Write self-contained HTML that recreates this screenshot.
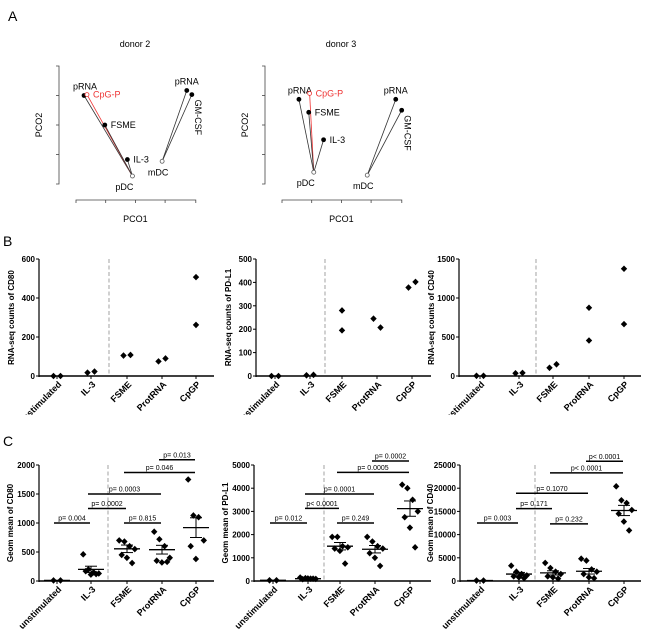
<!DOCTYPE html>
<html><head><meta charset="utf-8"><style>
body{margin:0;background:#fff}
svg{display:block;font-family:"Liberation Sans",Arial,sans-serif}
</style></head><body>
<svg id="fig" width="650" height="640" viewBox="0 0 650 640">
<defs><clipPath id="clipB"><rect x="0" y="225" width="650" height="190"/></clipPath></defs>
<g id="A"></g>
<g id="B" clip-path="url(#clipB)"></g>
<g id="C"></g>
</svg>
<script>
const NS="http://www.w3.org/2000/svg";
function mk(p,t,a,txt){const e=document.createElementNS(NS,t);for(const k in a)e.setAttribute(k,a[k]);if(txt!==undefined)e.textContent=txt;p.appendChild(e);return e;}

// ---- Panel A data (PCO coordinates in axis tick units) ----
const pcoDonors=["donor 2","donor 3"];
const pcoLabels=[["pRNA","CpG-P","FSME","IL-3","pRNA","GM-CSF"],["pRNA","CpG-P","FSME","IL-3","pRNA","GM-CSF"]];
const pcoX=[[0.27,0.37,0.97,1.73,3.73,3.9],[0.57,0.93,0.9,1.4,3.83,4.03]];
const pcoY=[[3.0,3.03,2.0,0.83,3.17,3.03],[2.87,3.07,2.43,1.5,2.87,2.5]];
const pcoOrigin=[[[1.9,0.27],[2.9,0.77]],[[1.07,0.4],[2.87,0.3]]]; // pDC, mDC
const pcoParent=[[0,0,0,0,1,1],[0,0,0,0,1,1]];

// ---- Panel B data ----
const bCats=["unstimulated","IL-3","FSME","ProtRNA","CpGP"];
const bTitles=["RNA-seq counts of CD80","RNA-seq counts of PD-L1","RNA-seq counts of CD40"];
const bTicks=[[0,200,400,600],[0,100,200,300,400,500],[0,500,1000,1500]];
const bVals=[
 [[0,0],[17,23],[105,108],[75,90],[507,262]],
 [[0,0],[3,5],[280,195],[245,207],[378,402]],
 [[3,3],[35,40],[105,150],[875,455],[1375,665]]
];
// ---- Panel C data ----
const cTitles=["Geom mean of CD80","Geom mean of PD-L1","Geom mean of CD40"];
const cTicks=[[0,500,1000,1500,2000],[0,1000,2000,3000,4000,5000],[0,5000,10000,15000,20000,25000]];
const cVals=[
 [[10,10],[460,200,150,130,170,110,120],[700,680,600,550,450,400,310],[850,720,600,400,350,320,330],[1750,1130,1100,700,600,380]],
 [[30,30],[150,120,100,90,80,110,100],[1900,1900,1500,1450,1400,1300,750],[1900,1700,1500,1400,1200,1000,650],[4150,4000,3500,3000,2750,2300,1450]],
 [[100,100],[3300,2000,1500,1200,1000,800,600],[3900,2800,2000,1500,1000,800,500],[4800,4400,2500,2000,1500,800,600],[20400,17400,16800,15300,14500,12800,10900]]
];
const cMeans=[[10,200,555,540,920],[30,100,1500,1370,3120],[100,1500,1750,2100,15200]];
const cSem=[[0,55,65,75,170],[0,15,160,160,330],[0,350,450,600,1100]];
const cSigLabels=[
 ["p= 0.004","p= 0.0002","p= 0.0003","p= 0.815","p= 0.046","p= 0.013"],
 ["p= 0.012","p< 0.0001","p= 0.0001","p= 0.249","p= 0.0005","p= 0.0002"],
 ["p= 0.003","p= 0.171","p= 0.1070","p= 0.232","p< 0.0001","p< 0.0001"]];
const cSigFrom=[0,1,1,2,2,3];
const cSigTo=[1,2,3,3,4,4];
const cSigLevel=[[1000,1250,1500,1000,1870,2090],[2500,3130,3750,2500,4680,5170],[12500,15600,18900,12300,23300,25800]];

// ---- Panel A ----
const A=document.getElementById('A');
let t=mk(A,'text',{x:8,y:21,'font-size':14},'A');

const aAxX=[59,265];
pcoDonors.forEach((d,i)=>{
  const g=mk(A,'g',{});
  
  const ax=aAxX[i], x0=ax+17, dx=29.7, y0=184, dy=29.5;
  const sx=v=>x0+v*dx, sy=v=>y0-v*dy;
  let tt=mk(g,'text',{x:ax+76,y:47,'font-size':9,'text-anchor':'middle'},d);
  
  mk(g,'path',{d:`M${ax-3} 66H${ax}V${y0}H${ax-3}`,stroke:'#444',fill:'none','stroke-width':0.8});
  for(let k=1;k<4;k++)mk(g,'line',{x1:ax-3,x2:ax,y1:y0-k*dy,y2:y0-k*dy,stroke:'#444','stroke-width':0.8});
  mk(g,'path',{d:`M${x0} 203V200H${x0+4*dx+1}V203`,stroke:'#444',fill:'none','stroke-width':0.8});
  for(let k=1;k<4;k++)mk(g,'line',{x1:x0+k*dx,x2:x0+k*dx,y1:200,y2:203,stroke:'#444','stroke-width':0.8});
  let yl=mk(g,'text',{x:ax-17,y:125,'font-size':9,'text-anchor':'middle',transform:`rotate(-90 ${ax-17} 125)`},'PCO2');
  
  let xl=mk(g,'text',{x:x0+2*dx,y:222,'font-size':9,'text-anchor':'middle'},'PCO1');
  
  pcoLabels[i].forEach((lab,j)=>{
    const o=pcoOrigin[i][pcoParent[i][j]];
    const red=lab==='CpG-P';
    mk(g,'line',{x1:sx(o[0]),y1:sy(o[1]),x2:sx(pcoX[i][j]),y2:sy(pcoY[i][j]),stroke:red?'#e33':'#333','stroke-width':0.8});
  });
  pcoLabels[i].forEach((lab,j)=>{
    const red=lab==='CpG-P', px=sx(pcoX[i][j]), py=sy(pcoY[i][j]);
    const c=mk(g,'circle',{cx:px,cy:py,r:2,fill:red?'#fff':'#000',stroke:red?'#e33':'#000','stroke-width':0.8});
    
    let tx;
    if(lab==='GM-CSF'){tx=mk(g,'text',{x:px+3,y:py+5,'font-size':9,transform:`rotate(90 ${px+3} ${py+5})`},lab);}
    else if(j===0){tx=mk(g,'text',{x:px+1,y:py-6,'font-size':9,'text-anchor':'middle'},lab);}
    else if(j===4){tx=mk(g,'text',{x:px,y:py-6,'font-size':9,'text-anchor':'middle'},lab);}
    else tx=mk(g,'text',{x:px+6,y:py+3,'font-size':9,fill:red?'#e33':'#000'},lab);
    
  });
  ['pDC','mDC'].forEach((lab,k)=>{
    const o=pcoOrigin[i][k];
    const c=mk(g,'circle',{cx:sx(o[0]),cy:sy(o[1]),r:2,fill:'#fff',stroke:'#555','stroke-width':0.8});
    
    const tx=mk(g,'text',{x:sx(o[0])-(k?4:8),y:sy(o[1])+14,'font-size':9,'text-anchor':'middle'},lab);
    
  });
});

function diamond(g,x,y,name){
  const d=mk(g,'path',{d:`M${x} ${y-3.3}L${x+3.2} ${y}L${x} ${y+3.3}L${x-3.2} ${y}Z`,fill:'#000'});
  
}
function panel(root,o){
  const g=mk(root,'g',{});
  
  const sy=v=>o.y0-(v/o.max)*(o.y0-o.yTop);
  mk(g,'line',{x1:o.ax,x2:o.ax,y1:o.yTop,y2:o.y0+1,stroke:'#000','stroke-width':1.2});
  mk(g,'line',{x1:o.ax,x2:o.axEnd,y1:o.y0,y2:o.y0,stroke:'#000','stroke-width':1.4});
  o.ticks.forEach(v=>{
    mk(g,'line',{x1:o.ax-3,x2:o.ax,y1:sy(v),y2:sy(v),stroke:'#000','stroke-width':1});
    const tl=mk(g,'text',{x:o.ax-4,y:sy(v)+3,'font-size':8,'font-weight':'bold','text-anchor':'end'},v);
    
  });
  const tx=o.ax-o.titleOff, ty=(o.yTop+o.y0)/2;
  const yt=mk(g,'text',{x:tx,y:ty,'font-size':8,'font-weight':'bold','text-anchor':'middle',transform:`rotate(-90 ${tx} ${ty})`},o.title);
  
  mk(g,'line',{x1:o.dash,x2:o.dash,y1:o.yTop,y2:o.y0,stroke:'#999','stroke-width':0.9,'stroke-dasharray':'4,2.5'});
  bCats.forEach((c,i)=>{
    const x=o.cx[i];
    mk(g,'line',{x1:x,x2:x,y1:o.y0,y2:o.y0+3,stroke:'#000','stroke-width':1});
    const lx=x+5, ly=o.y0+9;
    const tl=mk(g,'text',{x:lx,y:ly,'font-size':9,'font-weight':'bold','text-anchor':'end',transform:`rotate(-45 ${lx} ${ly})`},c);
    
    const vals=o.vals[i], n=vals.length;
    const stack=n===2&&Math.abs(vals[0]-vals[1])>0.08*o.max;
    vals.forEach((v,k)=>{
      const off=stack?0:(n<=2?(k-0.5)*7:((k%4)-1.5)*5.2+(k>=4?2.5:0));
      diamond(g,x+off,sy(v),'point-'+c.toLowerCase());
    });
    if(o.means){
      const m=o.means[i],s=o.sem[i];
      const ml=mk(g,'line',{x1:x-13,x2:x+13,y1:sy(m),y2:sy(m),stroke:'#000','stroke-width':1.3});
      
      if(s>0){
        mk(g,'line',{x1:x,x2:x,y1:sy(m+s),y2:sy(m-s),stroke:'#000','stroke-width':1});
        mk(g,'line',{x1:x-6,x2:x+6,y1:sy(m+s),y2:sy(m+s),stroke:'#000','stroke-width':1});
        mk(g,'line',{x1:x-6,x2:x+6,y1:sy(m-s),y2:sy(m-s),stroke:'#000','stroke-width':1});
      }
    }
  });
  if(o.sig){
    o.sig.forEach((lab,k)=>{
      const x1=o.cx[cSigFrom[k]]-3,x2=o.cx[cSigTo[k]]-1,y=sy(o.sigLv[k]);
      const b=mk(g,'line',{x1:x1,x2:x2,y1:y,y2:y,stroke:'#000','stroke-width':1.5});
      
      const tl=mk(g,'text',{x:(x1+x2)/2,y:y-2.5,'font-size':7,'text-anchor':'middle'},lab);
      
    });
  }
}
const B=document.getElementById('B'), C=document.getElementById('C');
let lb=mk(B,'text',{x:3,y:246,'font-size':14},'B');

let lc=mk(C,'text',{x:3,y:446,'font-size':14},'C');

const axXs=[39,256,459], axEnds=[214,431,641], dashes=[109,325,536];
const cxs=[[57,91,127,162,196],[275,310,342,377,412],[480,519,553,589,624]];
for(let p=0;p<3;p++){
  panel(B,{name:'chart-b-'+(p+1),ax:axXs[p],axEnd:axEnds[p],yTop:259,y0:376,max:bTicks[p][bTicks[p].length-1],ticks:bTicks[p],title:bTitles[p],titleOff:p==2?25:25,dash:dashes[p],cx:cxs[p],vals:bVals[p]});
  const cx2=cxs[p].map(v=>v+(p==1?-2:0));
  panel(C,{name:'chart-c-'+(p+1),ax:p==1?254:(p==2?460:39),axEnd:axEnds[p],yTop:465,y0:581,max:cTicks[p][cTicks[p].length-1],ticks:cTicks[p],title:cTitles[p],titleOff:p==0?26:(p==1?26:27),dash:dashes[p]-1,cx:cx2,vals:cVals[p],means:cMeans[p],sem:cSem[p],sig:cSigLabels[p],sigLv:cSigLevel[p]});
}
</script>
</body></html>
